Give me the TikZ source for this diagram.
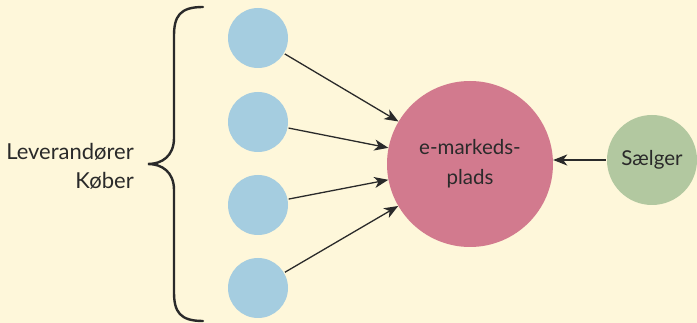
\documentclass[tikz,border=0pt]{standalone}
\usepackage{fontspec}
\setmainfont{Lato}
\usetikzlibrary{arrows.meta}
\definecolor{bg}{HTML}{FEF7DA}
\definecolor{blue1}{HTML}{A5CDE0}
\definecolor{pink1}{HTML}{D27A8E}
\definecolor{green1}{HTML}{B2C8A0}
\definecolor{ink}{HTML}{2A2A2A}
\tikzset{
  small/.style={circle,fill=blue1,minimum size=60pt,inner sep=0pt},
  big/.style={circle,fill=pink1,minimum size=166pt,inner sep=0pt,align=center,text=ink,font=\fontsize{20.5}{30}\selectfont},
  seller/.style={circle,fill=green1,minimum size=90pt,inner sep=0pt,text=ink,font=\fontsize{20.5}{30}\selectfont},
  conn/.style={draw=ink,line width=1.3pt,-{Stealth[length=14pt,width=11pt,inset=4pt]},shorten <=1pt},
  lbl/.style={text=ink,font=\fontsize{22}{29}\selectfont,align=right,inner sep=0pt}
}
\begin{document}
\begin{tikzpicture}[x=1pt,y=-1pt]
\fill[bg] (0,0) rectangle (697,323);
\useasboundingbox (0,0) rectangle (697,323);
\node[small] (b1) at (258,38) {};
\node[small] (b2) at (258,122) {};
\node[small] (b3) at (258,205) {};
\node[small] (b4) at (258,288) {};
\node[big] (m) at (470,164) {e-markeds-\\plads};
\node[seller] (s) at (652,160) {Sælger};
\draw[conn] (b1) -- (m);
\draw[conn] (b2) -- (m);
\draw[conn] (b3) -- (m);
\draw[conn] (b4) -- (m);
\draw[conn] (s.west) -- (m.east |- s.west);
\node[lbl,anchor=east] (t) at (134,166) {Leverandører\\Køber};
\draw[ink,line width=2.4pt,line cap=round]
  (203,7) .. controls (180,7) and (174,16) .. (174,36)
  -- (174,138) .. controls (174,156) and (162,164) .. (148,164)
  .. controls (162,164) and (174,172) .. (174,190)
  -- (174,292) .. controls (174,312) and (180,321) .. (203,321);
\end{tikzpicture}
\end{document}
